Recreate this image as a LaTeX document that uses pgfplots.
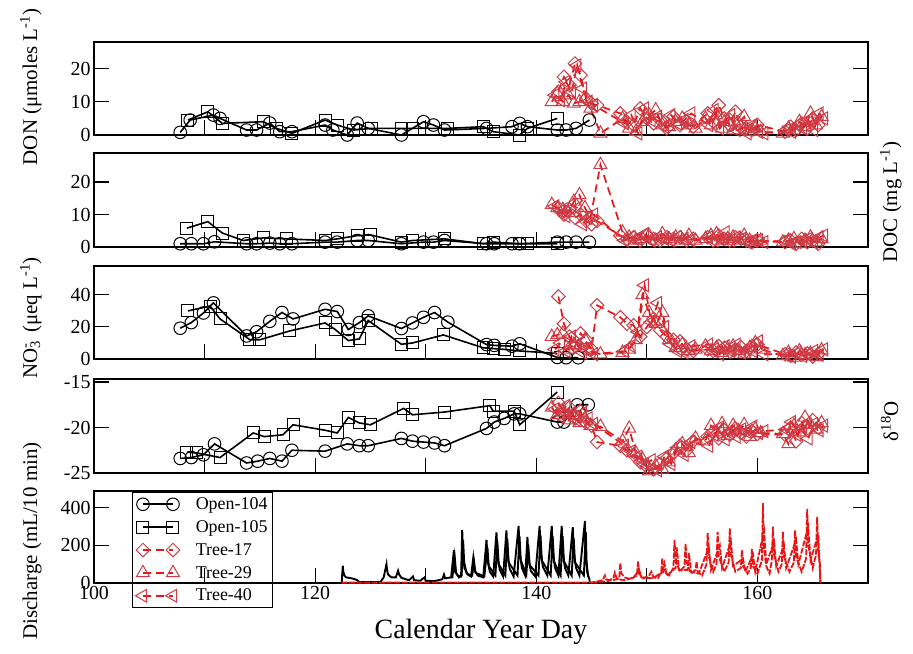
\documentclass[border=0pt]{standalone}
\usepackage{pgfplots}
\pgfplotsset{compat=1.18}
\usepackage{fontspec}
\setmainfont{Liberation Serif}
\definecolor{tred}{RGB}{235,20,20}
\definecolor{mred}{RGB}{205,60,70}
\pgfplotsset{
  panel/.style={
    scale only axis, width=774bp, anchor=north west,
    xmin=100, xmax=170,
    xtick={100,120,140,160}, minor xtick={110,130,150},
    xtick pos=lower, ytick pos=both, yticklabel pos=left,
    tick align=inside,
    major tick length=15bp, minor tick length=15bp,
    every tick/.style={black, line width=1.1bp},
    every minor tick/.style={black, line width=1.1bp},
    axis line style={line width=1.2bp},
    tick label style={font=\fontsize{20}{24}\selectfont},
    /pgf/number format/assume math mode=true,
    yticklabel={\pgfmathprintnumber{\tick}},
    clip=false,
    xticklabels={},
    scaled y ticks=false,
  },
  open104/.style={black, line width=1.6bp, mark=o, mark size=6.3bp, mark options={solid, line width=1bp}},
  open105/.style={black, line width=1.6bp, mark=square, mark size=6bp, mark options={solid, line width=1bp}},
  treeline/.style={tred, line width=1.7bp, dash pattern=on 8bp off 5bp},
  tree17/.style={treeline, mark=square, mark size=4.8bp, mark options={solid, draw=mred, line width=1bp, rotate=45}},
  tree29/.style={treeline, mark=triangle, mark size=7.5bp, mark options={solid, draw=mred, line width=1bp}},
  tree40/.style={treeline, mark=triangle, mark size=7.5bp, mark options={solid, draw=mred, line width=1bp, rotate=90}},
}
\begin{document}
\begin{tikzpicture}
\useasboundingbox (0,0) rectangle (913bp,-654bp);

% ---------------- Panel 1: DON
\begin{axis}[panel, at={(94bp,-42bp)}, height=93bp, ymin=0, ymax=28, ytick={0,10,20}]
\addplot[open104] coordinates {(107.8,0.8) (108.7,4.5) (110.8,6.0) (111.4,5.0) (113.8,1.5) (114.7,1.5) (115.9,3.6) (116.8,1.0) (117.9,1.0) (120.9,3.0) (121.6,1.5) (122.9,0.0) (123.8,3.6) (124.8,2.0) (127.8,0.0) (129.8,4.0) (130.7,3.0) (131.7,1.5) (135.5,2.0) (137.8,2.5) (138.5,3.5) (139.2,2.5) (141.9,1.5) (142.7,1.5) (143.6,2.0) (144.8,4.5)};
\addplot[open105] coordinates {(108.5,4.5) (110.3,7.0) (111.6,3.5) (115.3,4.0) (116.5,2.0) (117.9,0.5) (120.9,4.5) (122.0,3.0) (123.5,1.5) (125.1,2.0) (127.8,2.0) (128.8,2.0) (132.0,2.0) (135.2,2.5) (136.1,1.0) (138.5,0.0) (139.2,2.0) (141.9,5.0)};
\addplot[tree17] coordinates {(142.0,13) (142.5,17.5) (143.0,15) (143.5,21.5) (144.0,18) (144.5,11) (145.0,9.5) (145.5,9)
 (147.6,6.5) (148.2,4) (148.8,3) (149.4,8) (150.0,5) (150.6,3.5) (151.2,4.5) (151.8,2) (152.4,5.5) (153.0,3) (153.6,4) (154.2,2.5)
 (155.5,6.5) (156.0,4) (156.5,9) (157.0,5) (157.5,3) (158.0,7) (158.5,2.5) (159.0,2) (159.5,1.5) (160.0,3)
 (162.5,1) (163.0,2.5) (163.5,1.5) (164.0,3.5) (164.5,2) (165.0,5) (165.5,3)};
\addplot[tree29] coordinates {(141.4,10) (141.9,12.5) (142.4,10) (142.9,12) (143.4,9.5) (143.9,10) (144.4,11) (144.9,8) (145.8,0.5)
 (147.8,5) (148.4,2) (149.0,1) (149.6,4) (150.2,6) (150.8,7.5) (151.4,3) (152.0,2.5) (152.6,4) (153.2,5) (153.8,3) (154.4,2)
 (155.3,5) (155.8,3) (156.3,6) (156.8,2) (157.3,4) (157.8,1.5) (158.3,3.5) (158.8,5.5) (159.3,1) (159.8,2) (160.3,1)
 (162.3,0.5) (162.8,2) (163.3,1.5) (163.8,4) (164.3,2.5) (164.8,6.5) (165.3,3) (165.8,5.5)};
\addplot[tree40] coordinates {(141.7,12) (142.2,10.5) (142.7,16) (143.2,13) (143.7,21) (144.2,14) (144.7,10) (145.2,9)
 (148.0,3.5) (148.6,6) (149.2,0.5) (149.8,8) (150.4,4.5) (151.0,5.5) (151.6,2.5) (152.2,6) (152.8,3.5) (153.4,4.5) (154.0,6.5)
 (155.6,3) (156.1,7.5) (156.6,2) (157.1,4.5) (157.6,6) (158.1,1.5) (158.6,2) (159.1,0.5) (159.6,3) (160.1,1) (160.6,0.5)
 (162.6,1.5) (163.1,1) (163.6,3) (164.1,2) (164.6,4.5) (165.1,1.5) (165.6,6.5) (166.0,5)};
\end{axis}

% ---------------- Panel 2: DOC
\begin{axis}[panel, at={(94bp,-153bp)}, height=94bp, ymin=0, ymax=28.9, ytick={0,10,20}]
\addplot[open104] coordinates {(107.8,1) (108.8,1) (109.9,1) (110.9,1.6) (113.8,1) (114.7,1) (115.9,1.2) (116.8,1) (117.9,1) (120.9,1.5) (122.0,1.5) (123.8,2) (124.8,2) (127.8,1) (129.8,1.5) (130.7,1.5) (131.7,2) (135.5,1) (136.2,1) (137.8,1) (138.5,1) (141.9,1.5) (142.7,1.5) (143.6,1.5) (144.8,1.5)};
\addplot[open105] coordinates {(108.4,5.8) (110.3,7.8) (111.6,4.3) (113.5,2.0) (115.3,2.8) (117.4,2.5) (120.9,2) (122.0,2.5) (123.8,3.5) (125.0,3.7) (127.8,1.5) (128.8,2) (131.7,2.5) (135.2,1) (136.1,1.5) (138.5,1) (139.2,1) (141.9,1)};
\addplot[tree17] coordinates {(142.0,12) (142.5,10) (143.0,11.5) (143.5,9) (144.0,10) (144.5,8) (145.0,7) (145.5,8)
 (147.6,3.5) (148.2,2.5) (148.8,3) (149.4,2) (150.0,3.5) (150.6,2.5) (151.2,2) (151.8,3) (152.4,2.5) (153.0,3) (153.6,2) (154.2,2.5)
 (155.5,3) (156.0,2) (156.5,3.5) (157.0,2.5) (157.5,2) (158.0,3) (158.5,2.5) (159.0,2) (159.5,1.5) (160.0,2)
 (162.5,1.5) (163.0,2) (163.5,1) (164.0,2.5) (164.5,1.5) (165.0,2) (165.5,1)};
\addplot[tree29] coordinates {(141.4,13) (141.9,12) (142.4,11.5) (142.9,10.5) (143.4,14) (143.9,16) (144.4,12) (144.9,9) (145.8,25.3)
 (147.8,4.5) (148.4,3) (149.0,2) (149.6,2.5) (150.2,3.5) (150.8,2) (151.4,4) (152.0,2.5) (152.6,3) (153.2,2) (153.8,3.5) (154.4,2)
 (155.3,2.5) (155.8,3.5) (156.3,4) (156.8,2) (157.3,2.5) (157.8,3) (158.3,2) (158.8,3.5) (159.3,2) (159.8,1.5) (160.3,2)
 (162.3,1.5) (162.8,2) (163.3,2.5) (163.8,1) (164.3,2) (164.8,3) (165.3,1.5) (165.8,2.5)};
\addplot[tree40] coordinates {(141.7,12.5) (142.2,11) (142.7,9.5) (143.2,13) (143.7,12) (144.2,7) (144.7,9) (145.2,10)
 (148.0,2) (148.6,3) (149.2,2.5) (149.8,4) (150.4,2) (151.0,3) (151.6,2.5) (152.2,2) (152.8,3) (153.4,2.5) (154.0,2)
 (155.6,3) (156.1,2) (156.6,2.5) (157.1,4.5) (157.6,2) (158.1,3) (158.6,2.5) (159.1,1.5) (159.6,2) (160.1,2) (160.6,1.5)
 (162.6,2) (163.1,1) (163.6,1.5) (164.1,2) (164.6,2.5) (165.1,1.5) (165.6,3) (166.0,3.5)};
\end{axis}

% ---------------- Panel 3: NO3
\begin{axis}[panel, at={(94bp,-266bp)}, height=93bp, ymin=0, ymax=58, ytick={0,20,40}]
\addplot[open104] coordinates {(107.8,19.2) (108.8,22.7) (109.9,28.7) (110.8,35) (113.8,14.4) (114.7,17) (115.9,23.5) (117.0,29) (118.0,25) (120.9,31) (122.0,29.6) (123.0,18.4) (124.0,22.7) (124.8,26.9) (127.8,19) (128.8,22.5) (129.8,26) (130.8,29) (132.0,23) (135.5,9) (136.2,8.5) (137.8,8) (138.5,9.5) (141.9,1) (142.7,0.8) (143.8,0.8)};
\addplot[open105] coordinates {(108.5,30) (110.5,33) (111.4,25) (114.1,12) (115.0,12) (117.7,17.5) (120.9,22.5) (121.8,18.5) (123.0,11.5) (124.0,12.5) (124.8,24) (127.8,9.2) (128.8,10) (131.6,15) (135.2,7) (136.1,6.5) (137.1,6) (138.5,5) (141.9,3.5)};
\addplot[tree17] coordinates {(142.0,39) (142.5,22) (143.0,14) (143.5,8) (144.0,16) (144.5,12) (145.0,6) (145.5,33.5)
 (147.6,26) (148.2,22) (148.8,21) (149.4,14) (150.0,20) (150.6,25) (151.2,18) (151.8,14) (152.4,12) (153.0,11) (153.6,6) (154.2,5)
 (155.5,6) (156.0,5) (156.5,8) (157.0,7) (157.5,4.5) (158.0,6) (158.5,7.5) (159.0,5) (159.5,8) (160.0,9)
 (162.5,3) (163.0,2) (163.5,4) (164.0,2.5) (164.5,3.5) (165.0,1.5) (165.5,3)};
\addplot[tree29] coordinates {(141.4,14) (141.9,15) (142.4,16) (142.9,6) (143.4,9) (143.9,8) (144.4,12) (144.9,5) (145.8,3)
 (147.8,4) (148.4,6) (149.0,12) (149.6,40) (150.2,29) (150.8,22) (151.4,29) (152.0,12) (152.6,7) (153.2,9) (153.8,5) (154.4,6)
 (155.3,8) (155.8,5) (156.3,7) (156.8,4) (157.3,6) (157.8,8) (158.3,5) (158.8,3) (159.3,7) (159.8,10) (160.3,6)
 (162.3,2) (162.8,4) (163.3,1) (163.8,5) (164.3,2.5) (164.8,3.5) (165.3,1.5) (165.8,5.5)};
\addplot[tree40] coordinates {(141.7,6) (142.2,10) (142.7,5) (143.2,14) (143.7,9) (144.2,4) (144.7,7) (145.2,3)
 (148.0,5) (148.6,8) (149.2,17) (149.8,46) (150.4,23) (151.0,35) (151.6,20) (152.2,9) (152.8,5) (153.4,4) (154.0,8)
 (155.6,9) (156.1,6) (156.6,3) (157.1,8) (157.6,5) (158.1,9) (158.6,4) (159.1,6) (159.6,5) (160.1,11) (160.6,3)
 (162.6,3) (163.1,1.5) (163.6,4) (164.1,2) (164.6,3) (165.1,5) (165.6,2.5) (166.0,6)};
\end{axis}

% ---------------- Panel 4: d18O
\begin{axis}[panel, at={(94bp,-379bp)}, height=94bp, ymin=-25, ymax=-14.67, ytick={-25,-20,-15}]
\addplot[open104] coordinates {(107.8,-23.4) (108.8,-23.3) (109.9,-23.0) (110.9,-21.8) (113.8,-23.9) (114.8,-23.7) (115.9,-23.4) (117.0,-23.7) (117.9,-22.5) (120.9,-22.6) (122.9,-21.8) (124.0,-22.0) (124.8,-22.0) (127.8,-21.2) (128.8,-21.5) (129.8,-21.6) (130.8,-21.7) (131.7,-22.0) (135.5,-20.1) (136.2,-19.4) (137.1,-19.0) (138.0,-18.5) (138.5,-18.5) (141.9,-19.4) (142.5,-19.4) (143.7,-17.5) (144.7,-17.5)};
\addplot[open105] coordinates {(108.4,-22.7) (109.3,-22.8) (111.4,-23.3) (114.4,-20.6) (115.4,-21.0) (117.1,-20.8) (118.0,-19.7) (120.9,-20.3) (122.0,-20.6) (123.0,-18.9) (124.0,-19.5) (125.0,-19.7) (128.0,-17.9) (128.8,-18.6) (131.7,-18.3) (135.8,-17.6) (136.1,-18.2) (138.0,-18.2) (138.5,-19.7) (141.9,-16.1)};
\addplot[tree17] coordinates {(142.0,-17.3) (142.5,-18.5) (143.0,-17.8) (143.5,-19.0) (144.0,-18.2) (144.5,-19.5) (145.0,-19.8) (145.5,-21.6)
 (147.6,-22.0) (148.2,-22.5) (148.8,-23.0) (149.4,-23.8) (150.0,-24.3) (150.6,-24.6) (151.2,-24.0) (151.8,-23.4) (152.4,-22.8) (153.0,-22.0) (153.6,-22.5) (154.2,-21.5)
 (155.5,-21.0) (156.0,-20.5) (156.5,-21.2) (157.0,-20.3) (157.5,-20.8) (158.0,-20.1) (158.5,-20.6) (159.0,-21.0) (159.5,-20.4) (160.0,-20.7)
 (162.5,-20.8) (163.0,-20.0) (163.5,-21.5) (164.0,-19.5) (164.5,-20.3) (165.0,-19.2) (165.5,-20.0)};
\addplot[tree29] coordinates {(141.4,-17.8) (141.9,-18.6) (142.4,-18.2) (142.9,-19.2) (143.4,-18.6) (143.9,-19.5) (144.4,-19.0) (144.9,-19.8) (145.8,-19.9)
 (147.8,-21.5) (148.4,-20.1) (149.0,-22.8) (149.6,-23.5) (150.2,-24.8) (150.8,-24.2) (151.4,-24.6) (152.0,-23.8) (152.6,-22.5) (153.2,-21.8) (153.8,-22.8) (154.4,-21.2)
 (155.3,-21.5) (155.8,-19.8) (156.3,-20.5) (156.8,-19.6) (157.3,-20.9) (157.8,-19.8) (158.3,-20.4) (158.8,-19.7) (159.3,-21.0) (159.8,-20.2) (160.3,-20.6)
 (162.3,-20.7) (162.8,-21.8) (163.3,-19.8) (163.8,-20.5) (164.3,-18.9) (164.8,-19.7) (165.3,-20.2) (165.8,-19.5)};
\addplot[tree40] coordinates {(141.7,-18.0) (142.2,-18.8) (142.7,-17.6) (143.2,-18.5) (143.7,-19.2) (144.2,-18.4) (144.7,-19.0) (145.2,-19.6)
 (148.0,-22.0) (148.6,-22.6) (149.2,-23.2) (149.8,-24.0) (150.4,-23.6) (151.0,-24.7) (151.6,-23.2) (152.2,-24.0) (152.8,-22.2) (153.4,-23.0) (154.0,-21.6)
 (155.6,-22.0) (156.1,-20.8) (156.6,-20.0) (157.1,-21.3) (157.6,-20.4) (158.1,-21.0) (158.6,-20.2) (159.1,-20.5) (159.6,-19.9) (160.1,-20.6) (160.6,-20.4)
 (162.6,-20.2) (163.1,-19.4) (163.6,-20.8) (164.1,-20.0) (164.6,-21.2) (165.1,-19.6) (165.6,-20.3) (166.0,-19.8)};
\end{axis}

% ---------------- Panel 5: Discharge
\begin{axis}[panel, at={(94bp,-491bp)}, height=92bp, ymin=0, ymax=490, ytick={0,200,400},
  xticklabels={100,120,140,160},
  legend cell align=left,
  legend image code/.code={\draw[#1] plot coordinates {(0bp,0bp) (30bp,0bp)};},
  legend style={at={(rel axis cs:0.049,0.989)}, anchor=north west, draw=black, line width=1.1bp, fill=none,
    font=\fontsize{18}{20}\selectfont, inner sep=3bp, row sep=5.5bp,
    /tikz/every odd column/.append style={column sep=14bp}}]
\addplot[forget plot, black, line width=1.9bp] coordinates {(122.4,0) (122.5,92) (122.55,60) (122.65,40) (122.8,30) (123.0,28) (123.3,25) (123.6,20) (123.8,15) (124.0,5) (125.9,5) (126.2,30) (126.45,100) (126.5,70) (126.6,45) (126.9,30) (127.3,30) (127.5,66) (127.6,45) (127.8,28) (128.2,20) (128.5,15) (128.85,35) (128.95,15) (129.5,12) (129.9,30) (130.0,12) (130.8,10) (131.5,20) (131.65,45) (131.75,25) (132.3,30) (132.55,175) (132.65,60) (132.9,40) (133.2,35) (133.3,283) (133.38,150) (133.5,80) (133.8,45) (134.1,35) (134.3,133) (134.4,70) (134.7,40) (135.2,30) (135.5,230) (135.6,120) (135.8,60) (136.1,35) (136.4,270) (136.5,140) (136.7,70) (137.0,35) (137.3,280) (137.4,150) (137.6,75) (137.95,35) (138.4,304) (138.5,160) (138.7,80) (139.0,40) (139.2,245) (139.3,130) (139.5,65) (139.9,35) (140.3,304) (140.4,165) (140.6,85) (141.0,40) (141.4,304) (141.5,160) (141.7,80) (142.0,40) (142.3,304) (142.4,160) (142.6,80) (142.9,40) (143.3,297) (143.4,155) (143.6,80) (143.9,40) (144.4,330) (144.45,150) (144.6,60) (144.8,20) (144.85,0)};
\addplot[forget plot, black, line width=1.9bp] coordinates {(132.4,25) (132.62,140) (132.75,55) (133.0,30) (133.25,40) (133.38,230) (133.48,110) (133.7,50) (134.2,40) (134.38,110) (134.5,55) (135.3,35) (135.58,190) (135.7,90) (136.3,40) (136.48,220) (136.6,100) (137.2,40) (137.38,235) (137.5,110) (138.3,40) (138.48,250) (138.6,120) (139.1,45) (139.28,200) (139.4,95) (140.2,40) (140.38,255) (140.5,120) (141.3,40) (141.48,250) (141.6,115) (142.2,40) (142.38,250) (142.5,115) (143.2,40) (143.38,240) (143.5,110) (144.3,40) (144.48,270) (144.55,110) (144.7,30)};
\addplot[forget plot, tred, line width=1.8bp, dash pattern=on 6bp off 1.5bp] coordinates {(122.4,2) (145.0,3) (145.5,8) (146.0,15) (146.2,40) (146.3,20) (146.8,12) (147.5,25) (147.6,107) (147.7,50) (148.0,30) (148.5,20) (149.1,40) (149.2,115) (149.3,50) (149.7,25) (150.2,40) (150.4,60) (150.6,30) (151.0,25) (151.3,60) (151.4,133) (151.5,60) (152.0,40) (152.4,80) (152.5,230) (152.6,120) (153.0,60) (153.4,90) (153.5,210) (153.6,110) (154.0,50) (154.4,70) (154.5,115) (154.6,60) (155.0,40) (155.4,100) (155.5,266) (155.6,140) (156.0,60) (156.3,100) (156.4,272) (156.5,140) (157.0,60) (157.4,110) (157.5,292) (157.6,150) (158.0,60) (158.5,80) (158.6,175) (158.7,90) (159.1,50) (159.4,80) (159.5,182) (159.6,90) (160.0,50) (160.4,120) (160.5,426) (160.55,200) (160.8,90) (161.1,50) (161.3,120) (161.4,300) (161.5,150) (161.9,60) (162.2,100) (162.3,272) (162.4,140) (162.9,60) (163.3,110) (163.4,280) (163.5,140) (164.0,60) (164.4,130) (164.5,395) (164.6,200) (165.0,80) (165.3,150) (165.4,352) (165.5,180) (165.65,100) (165.7,0)};
\addplot[forget plot, tred, line width=1.8bp, dash pattern=on 6bp off 1.5bp] coordinates {(145.0,2) (146.5,10) (147.0,30) (147.1,55) (147.3,20) (148.0,15) (148.8,30) (149.3,70) (149.5,30) (150.5,25) (151.5,60) (151.6,100) (151.8,40) (152.6,80) (152.7,190) (152.9,70) (153.7,70) (153.8,160) (154.0,60) (154.7,50) (155.6,190) (155.8,70) (156.6,200) (156.8,80) (157.6,220) (157.8,90) (158.7,130) (158.9,60) (159.6,150) (159.8,60) (160.6,280) (160.8,100) (161.5,220) (161.7,90) (162.4,200) (162.6,80) (163.5,230) (163.7,100) (164.6,300) (164.8,120) (165.5,260) (165.6,120) (165.7,0)};
\addlegendimage{open104}
\addlegendentry{Open-104}
\addlegendimage{open105}
\addlegendentry{Open-105}
\addlegendimage{tree17}
\addlegendentry{Tree-17}
\addlegendimage{tree29}
\addlegendentry{Tree-29}
\addlegendimage{tree40}
\addlegendentry{Tree-40}
\end{axis}

% ---------------- labels
\node[rotate=90, anchor=base, font=\fontsize{21}{24}\selectfont] at (37bp,-87bp) {DON (μmoles L\textsuperscript{-1})};
\node[rotate=90, anchor=base, font=\fontsize{21}{24}\selectfont] at (37bp,-318bp) {NO\rlap{\textsubscript{3}}\textsuperscript{-}\ \ (μeq L\textsuperscript{-1})};
\node[rotate=90, anchor=base, font=\fontsize{21}{24}\selectfont] at (37bp,-541bp) {Discharge (mL/10 min)};
\node[rotate=90, anchor=base, font=\fontsize{21}{24}\selectfont] at (897bp,-202bp) {DOC (mg L\textsuperscript{-1})};
\node[rotate=90, anchor=base, font=\fontsize{21}{24}\selectfont] at (898bp,-421bp) {δ\textsuperscript{18}O};
\node[anchor=base, font=\fontsize{28}{32}\selectfont] at (481bp,-638bp) {Calendar Year Day};
\end{tikzpicture}
\end{document}
